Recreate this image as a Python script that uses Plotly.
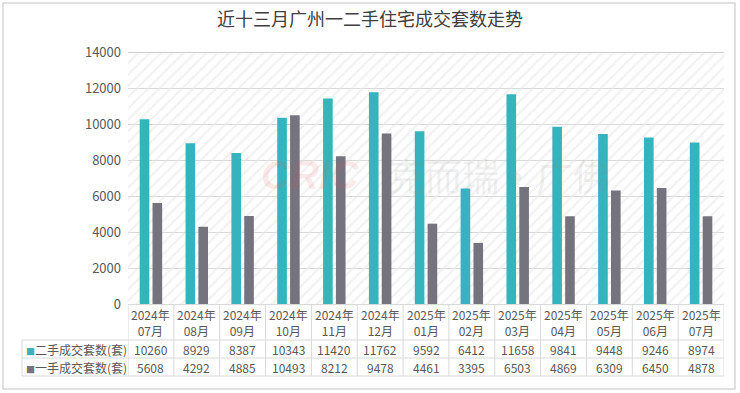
import plotly.graph_objects as go

title = "近十三月广州一二手住宅成交套数走势"
categories = ["2024年<br>07月", "2024年<br>08月", "2024年<br>09月", "2024年<br>10月", "2024年<br>11月",
              "2024年<br>12月", "2025年<br>01月", "2025年<br>02月", "2025年<br>03月", "2025年<br>04月",
              "2025年<br>05月", "2025年<br>06月", "2025年<br>07月"]
series_names = ["二手成交套数(套)", "一手成交套数(套)"]
second_hand = [10260, 8929, 8387, 10343, 11420, 11762, 9592, 6412, 11658, 9841, 9448, 9246, 8974]
first_hand = [5608, 4292, 4885, 10493, 8212, 9478, 4461, 3395, 6503, 4869, 6309, 6450, 4878]
y_ticks = [0, 2000, 4000, 6000, 8000, 10000, 12000, 14000]

colors = ["#37B3BD", "#74737E"]
bar_offsets = [-0.245, 0.035]
bar_width = 0.21
FONT = "Noto Sans CJK SC"
TXT = "#595959"
GRID = "#d9d9d9"

W, H = 740, 393
L, R, T, B = 128, 16, 52, 89
pw, ph = W - L - R, H - T - B
n = len(categories)
ymax = y_ticks[-1]

def px_x(p):  # pixel -> paper x
    return (p - L) / pw

def px_y(p):  # pixel -> paper y
    return (H - B - p) / ph

xs = list(range(n))
fig = go.Figure()

# striped plot background (one full-width transparent bar with hatch pattern)
fig.add_trace(go.Bar(
    x=[(n - 1) / 2], y=[ymax], width=[n], hoverinfo="skip", showlegend=False,
    marker=dict(color="rgba(0,0,0,0)", line=dict(width=0),
                pattern=dict(shape="/", size=8, solidity=0.3, fgcolor="#e6e6e6",
                             bgcolor="rgba(0,0,0,0)", fillmode="overlay"))))

for name, vals, c, off in zip(series_names, [second_hand, first_hand], colors, bar_offsets):
    fig.add_trace(go.Bar(x=xs, y=vals, name=name, width=bar_width, offset=off,
                         marker=dict(color=c, line=dict(width=0)), showlegend=False))

shapes = []
annotations = []

# outer frame
shapes.append(dict(type="rect", xref="paper", yref="paper",
                   x0=px_x(3), x1=px_x(735), y0=px_y(389), y1=px_y(3),
                   line=dict(color="#d6d6d6", width=1.5), layer="below"))
# top border of plot area (slightly stronger)
shapes.append(dict(type="line", xref="paper", yref="y", x0=0, x1=1, y0=ymax, y1=ymax,
                   line=dict(color="#d0d0d0", width=2)))

# table geometry (pixels)
row_top = H - B
row1 = 340
row2 = 358
row3 = 376
left_col = 22

for py in (row1, row2, row3):
    shapes.append(dict(type="line", xref="paper", yref="paper",
                       x0=px_x(left_col), x1=1, y0=px_y(py), y1=px_y(py),
                       line=dict(color=GRID, width=1)))
for k in range(n + 1):
    shapes.append(dict(type="line", xref="x", yref="paper",
                       x0=k - 0.5, x1=k - 0.5, y0=0, y1=px_y(row3),
                       line=dict(color=GRID, width=1)))
shapes.append(dict(type="line", xref="paper", yref="paper",
                   x0=px_x(left_col), x1=px_x(left_col), y0=px_y(row1), y1=px_y(row3),
                   line=dict(color=GRID, width=1)))

for i, cat in enumerate(categories):
    annotations.append(dict(x=i, xref="x", y=px_y((row_top + row1) / 2 + 0.5), yref="paper",
                            text=cat, showarrow=False, xanchor="center", yanchor="middle",
                            font=dict(family=FONT, size=12, color=TXT)))
for vals, py in ((second_hand, (row1 + row2) / 2), (first_hand, (row2 + row3) / 2)):
    for i, v in enumerate(vals):
        annotations.append(dict(x=i, xref="x", y=px_y(py), yref="paper",
                                text=str(v), showarrow=False, xanchor="center", yanchor="middle",
                                font=dict(family=FONT, size=12, color=TXT)))
for name, c, py in ((series_names[0], colors[0], (row1 + row2) / 2),
                    (series_names[1], colors[1], (row2 + row3) / 2)):
    annotations.append(dict(x=px_x((left_col + L) / 2 + 1), xref="paper", y=px_y(py), yref="paper",
                            text=f"<span style='color:{c};font-size:9px'>■</span>{name}",
                            showarrow=False, xanchor="center", yanchor="middle",
                            font=dict(family=FONT, size=12, color=TXT)))

# watermark
annotations.append(dict(x=px_x(362), y=px_y(175), xref="paper", yref="paper", text="<b><i>CRIC</i></b>",
                        showarrow=False, xanchor="right",
                        font=dict(family="Liberation Sans", size=40, color="rgba(235,90,90,0.12)")))
annotations.append(dict(x=px_x(386), y=px_y(175), xref="paper", yref="paper", text="克而瑞·广佛",
                        showarrow=False, xanchor="left",
                        font=dict(family=FONT, size=37, color="rgba(140,140,140,0.15)")))

fig.update_layout(
    width=W, height=H,
    margin=dict(l=L, r=R, t=T, b=B),
    paper_bgcolor="white", plot_bgcolor="white",
    title=dict(text=title, x=0.5, xref="container", y=1 - 20 / H, yanchor="middle", xanchor="center",
               font=dict(family=FONT, size=18, color="#404040")),
    barmode="overlay",
    shapes=shapes, annotations=annotations,
    font=dict(family=FONT, color=TXT),
    xaxis=dict(range=[-0.5, n - 0.5], showticklabels=False, showgrid=False, zeroline=False,
               showline=True, linecolor=GRID, ticks="", fixedrange=True),
    yaxis=dict(range=[0, ymax], tickvals=y_ticks, ticktext=[str(t) for t in y_ticks],
               showgrid=True, gridcolor=GRID, gridwidth=1, zeroline=False, showline=False,
               tickfont=dict(family=FONT, size=13, color=TXT), ticks="", ticklabelstandoff=6),
)

fig.write_html("out.html", config={"displayModeBar": False},
               post_script="document.body.style.margin='0';")
